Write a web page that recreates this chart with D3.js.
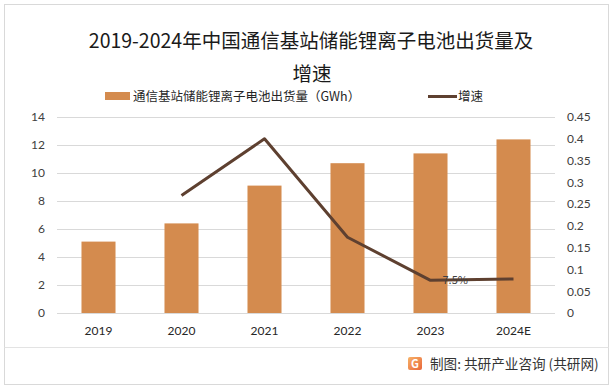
<!DOCTYPE html>
<html>
<head>
<meta charset="utf-8">
<script src="https://cdn.jsdelivr.net/npm/d3@7"></script>
<style>
  body { margin: 0; background: #fff; }
  text { font-family: "Noto Sans CJK SC", "Noto Sans", sans-serif; }
</style>
</head>
<body>
<div id="chart"></div>
<script>
// data
const years = ["2019", "2020", "2021", "2022", "2023", "2024E"];
const shipments = [5.1, 6.4, 9.1, 10.7, 11.4, 12.4];
const growth = [null, 0.27, 0.40, 0.174, 0.075, 0.078];
const leftTicks = [0, 2, 4, 6, 8, 10, 12, 14];
const rightTicks = [0, 0.05, 0.1, 0.15, 0.2, 0.25, 0.3, 0.35, 0.4, 0.45];
const labelled = { "2023": "7.5%" };

const W = 615, H = 386;
const margin = { top: 117, bottom: 73, left: 57, right: 60 };
const barColor = "#D48B4E";
const lineColor = "#5E4030";

const svg = d3.select("#chart").append("svg")
  .attr("width", W).attr("height", H);

// outer frame + footer separator
svg.append("rect").attr("x", 4.5).attr("y", 4.5).attr("width", 604).attr("height", 380)
  .attr("fill", "none").attr("stroke", "#d9d9d9");
svg.append("line").attr("x1", 4.5).attr("x2", 608.5).attr("y1", 347.5).attr("y2", 347.5)
  .attr("stroke", "#e3e3e3");

const x = d3.scaleBand().domain(years)
  .range([margin.left, W - margin.right]).paddingInner(0.59).paddingOuter(0.295);
const yL = d3.scaleLinear().domain([0, 14]).range([H - margin.bottom, margin.top]);
const yR = d3.scaleLinear().domain([0, 0.45]).range([H - margin.bottom, margin.top]);

// gridlines
svg.append("g").selectAll("line").data(leftTicks).join("line")
  .attr("x1", margin.left).attr("x2", W - margin.right)
  .attr("y1", d => Math.round(yL(d)) + 0.5).attr("y2", d => Math.round(yL(d)) + 0.5)
  .attr("stroke", "#d9d9d9");

// bars
svg.append("g").selectAll("rect").data(shipments).join("rect")
  .attr("x", (d, i) => x(years[i]))
  .attr("y", d => yL(d))
  .attr("width", x.bandwidth())
  .attr("height", d => yL(0) - yL(d))
  .attr("fill", barColor);

// growth line
const pts = growth.map((g, i) => ({ year: years[i], g })).filter(d => d.g !== null);
const line = d3.line().x(d => x(d.year) + x.bandwidth() / 2).y(d => yR(d.g));
svg.append("path").datum(pts).attr("d", line)
  .attr("fill", "none").attr("stroke", lineColor).attr("stroke-width", 3)
  .attr("stroke-linejoin", "round");

svg.append("g").selectAll("text").data(pts.filter(d => labelled[d.year])).join("text")
  .attr("x", d => x(d.year) + x.bandwidth() / 2 + 12)
  .attr("y", d => yR(d.g) + 4)
  .attr("font-size", 11).attr("fill", "#404040")
  .text(d => labelled[d.year]);

// axes
const axisL = d3.axisLeft(yL).tickValues(leftTicks).tickSize(0).tickPadding(0);
const gL = svg.append("g").attr("transform", `translate(45,0)`).call(axisL);
const axisR = d3.axisRight(yR).tickValues(rightTicks).tickSize(0).tickPadding(0)
  .tickFormat(d => d === 0 ? "0" : String(+d.toFixed(2)));
const gR = svg.append("g").attr("transform", `translate(567,0)`).call(axisR);
const axisX = d3.axisBottom(x).tickSize(0).tickPadding(0);
const gX = svg.append("g").attr("transform", `translate(0,${H - margin.bottom + 13})`).call(axisX);
[gL, gR, gX].forEach(g => {
  g.select(".domain").remove();
  g.selectAll("text").attr("font-size", 12).attr("fill", "#404040")
    .style("font-family", "Lato, 'Open Sans', sans-serif");
});
gX.selectAll("text").attr("fill", "#262626");

// title
const title = svg.append("g").attr("fill", "#1a1a1a").attr("text-anchor", "middle");
title.append("text").attr("x", 311).attr("y", 48).attr("font-size", 19.5)
  .text("2019-2024年中国通信基站储能锂离子电池出货量及");
title.append("text").attr("x", 312).attr("y", 81).attr("font-size", 19.5).text("增速");

// legend
const lg = svg.append("g").attr("font-size", 12.5).attr("fill", "#262626");
lg.append("rect").attr("x", 105).attr("y", 92).attr("width", 25).attr("height", 8).attr("fill", barColor);
lg.append("text").attr("x", 133).attr("y", 101).text("通信基站储能锂离子电池出货量（GWh）");
lg.append("line").attr("x1", 428).attr("x2", 457).attr("y1", 96.5).attr("y2", 96.5)
  .attr("stroke", lineColor).attr("stroke-width", 3);
lg.append("text").attr("x", 458).attr("y", 101).text("增速");

// footer credit
const defs = svg.append("defs");
const grad = defs.append("linearGradient").attr("id", "logoGrad")
  .attr("x1", 0).attr("y1", 0).attr("x2", 1).attr("y2", 1);
grad.append("stop").attr("offset", "0%").attr("stop-color", "#F7B267");
grad.append("stop").attr("offset", "100%").attr("stop-color", "#E8663A");
svg.append("rect").attr("x", 408).attr("y", 357).attr("width", 14).attr("height", 13)
  .attr("rx", 2).attr("fill", "url(#logoGrad)");
svg.append("text").attr("x", 415).attr("y", 368).attr("text-anchor", "middle")
  .attr("font-size", 11).attr("font-weight", "bold").attr("fill", "#fff").text("G");
svg.append("text").attr("x", 430).attr("y", 369).attr("font-size", 13.6).attr("fill", "#333")
  .text("制图: 共研产业咨询 (共研网)");
</script>
</body>
</html>
